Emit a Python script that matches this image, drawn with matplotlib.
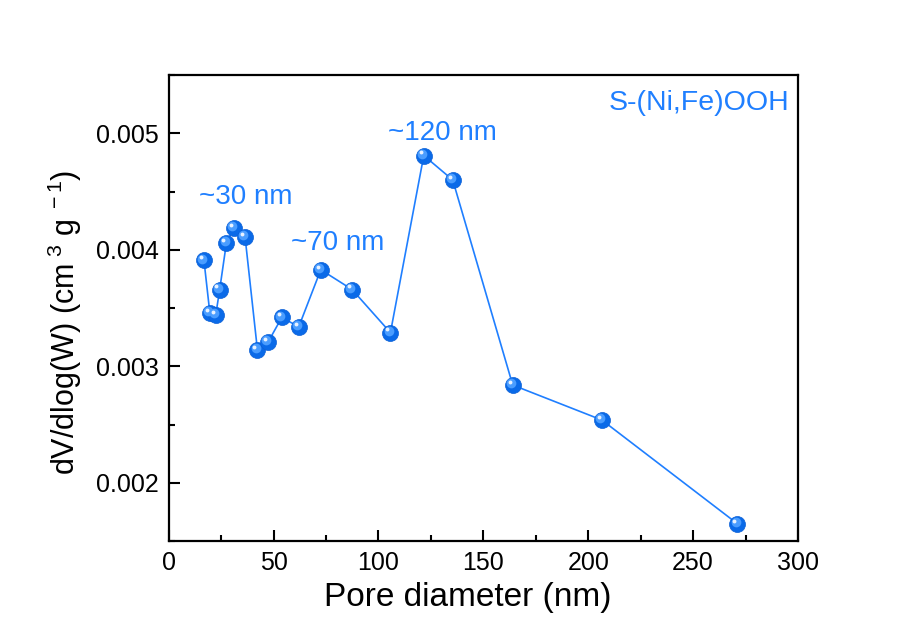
import matplotlib
matplotlib.use("Agg")
import matplotlib.pyplot as plt
from matplotlib.transforms import offset_copy
from matplotlib.ticker import MultipleLocator

plt.rcParams['font.family'] = ['Liberation Sans', 'DejaVu Sans']
plt.rcParams['mathtext.fontset'] = 'custom'
plt.rcParams['mathtext.rm'] = 'Liberation Sans'
plt.rcParams['mathtext.it'] = 'Liberation Sans:italic'

# pore size distribution
pore_diameter = [16.8, 19.6, 22.4, 24.3, 27.5, 31.0, 36.4, 42.3, 47.4, 53.9,
                 62.0, 72.5, 87.4, 105.7, 121.6, 135.4, 164.0, 206.5, 271.1]
dv_dlogw = [0.00391, 0.00346, 0.00344, 0.00366, 0.00406, 0.00419, 0.00411,
            0.00314, 0.00321, 0.00342, 0.00334, 0.00383, 0.00366, 0.00329,
            0.00481, 0.00460, 0.00284, 0.00254, 0.00165]

peak_labels = ["~30 nm", "~70 nm", "~120 nm"]
peak_pos = [(14.3, 0.00445), (58.2, 0.00406), (104.4, 0.00500)]

blue = "#1f7fff"

fig = plt.figure(figsize=(9.12, 6.42), dpi=100)
ax = fig.add_axes([0.185, 0.157, 0.69, 0.726])

ax.plot(pore_diameter, dv_dlogw, "-", color=blue, lw=1.2, zorder=2)
# shaded ball markers
ax.plot(pore_diameter, dv_dlogw, "o", color="#0a6ae8", ms=11.5, mec="#0a5fd6", mew=0.5, zorder=3)
hl = offset_copy(ax.transData, fig=fig, x=-1.3, y=1.3, units="points")
ax.plot(pore_diameter, dv_dlogw, "o", color="#4a9dff", ms=7, mew=0, transform=hl, zorder=4)
hl2 = offset_copy(ax.transData, fig=fig, x=-2.3, y=2.3, units="points")
ax.plot(pore_diameter, dv_dlogw, "o", color="#e8f2ff", ms=2.8, mew=0, transform=hl2, zorder=5)

for txt, (x, y) in zip(peak_labels, peak_pos):
    ax.text(x, y, txt, color=blue, fontsize=20, va="center", ha="left")
ax.text(0.986, 0.94, "S-(Ni,Fe)OOH", color=blue, fontsize=20.5,
        transform=ax.transAxes, ha="right", va="center")

ax.set_xlim(0, 300)
ax.set_ylim(0.0015, 0.0055)
ax.xaxis.set_major_locator(MultipleLocator(50))
ax.xaxis.set_minor_locator(MultipleLocator(25))
ax.yaxis.set_major_locator(MultipleLocator(0.001))
ax.yaxis.set_minor_locator(MultipleLocator(0.0005))
ax.tick_params(which="both", direction="in", width=1.5, labelsize=18, pad=7)
ax.tick_params(which="major", length=8)
ax.tick_params(which="minor", length=4)
for s in ax.spines.values():
    s.set_linewidth(1.6)

ax.set_xlabel("Pore diameter (nm)", fontsize=24)
ax.xaxis.set_label_coords(0.4755, -0.087)
ax.set_ylabel(r"dV/dlog(W) (cm$^{\ 3}$ g$^{\ -1}$)", fontsize=22)
ax.yaxis.set_label_coords(-0.135, 0.47)

fig.savefig("out.png", dpi=100, facecolor="white")
